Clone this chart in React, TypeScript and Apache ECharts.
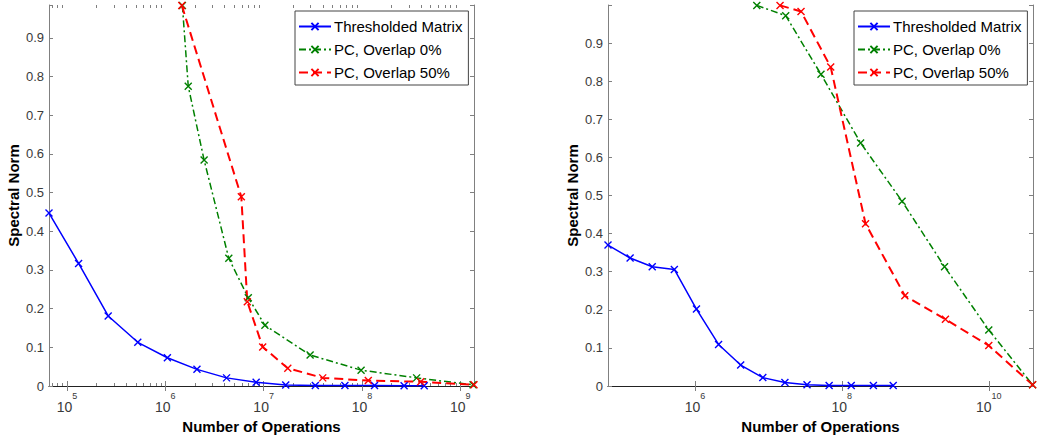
import React, { useEffect, useRef } from "react";
import * as echarts from "echarts";

// ---- Left panel data ----
const leftThreshX = [65536, 131072, 262144, 524288, 1048576, 2097152, 4194304, 8388608, 16777216, 33554432, 67108864, 134217728, 268435456, 430000000];
const leftThreshY = [0.447, 0.317, 0.181, 0.113, 0.073, 0.043, 0.021, 0.0095, 0.0026, 0.0015, 0.001, 0.001, 0.0008, 0.0005];
const leftPc0X = [1.49e6, 1.71e6, 2.48e6, 4.42e6, 6.98e6, 1.03e7, 2.97e7, 9.8e7, 3.6e8, 1.35e9];
const leftPc0Y = [0.984, 0.775, 0.584, 0.33, 0.228, 0.157, 0.08, 0.041, 0.021, 0.003];
const leftPc50X = [1.47e6, 5.93e6, 6.82e6, 9.78e6, 1.76e7, 3.99e7, 1.16e8, 3.96e8, 1.38e9];
const leftPc50Y = [0.984, 0.489, 0.218, 0.101, 0.046, 0.021, 0.014, 0.011, 0.003];

// ---- Right panel data ----
const rightThreshX = [65536, 131072, 262144, 524288, 1048576, 2097152, 4194304, 8388608, 16777216, 33554432, 67108864, 134217728, 268435456, 500000000];
const rightThreshY = [0.37, 0.336, 0.313, 0.306, 0.202, 0.109, 0.055, 0.022, 0.009, 0.003, 0.001, 0.001, 0.001, 0.001];
const rightPc0X = [6.95e6, 1.72e7, 5.2e7, 1.8e8, 6.6e8, 2.5e9, 1.0e10, 3.95e10];
const rightPc0Y = [0.999, 0.972, 0.818, 0.638, 0.485, 0.313, 0.147, 0.003];
const rightPc50X = [1.44e7, 2.78e7, 7.05e7, 2.1e8, 7.2e8, 2.57e9, 1.0e10, 3.95e10];
const rightPc50Y = [0.999, 0.983, 0.837, 0.426, 0.237, 0.175, 0.106, 0.003];

// ---- Axis ticks ----
const leftMajorTicks = [1e5, 1e6, 1e7, 1e8, 1e9];
const leftMinorTicks = [7e4, 8e4, 9e4, 2e5, 3e5, 4e5, 5e5, 6e5, 7e5, 8e5, 9e5, 2e6, 3e6, 4e6, 5e6, 6e6, 7e6, 8e6, 9e6, 2e7, 3e7, 4e7, 5e7, 6e7, 7e7, 8e7, 9e7, 2e8, 3e8, 4e8, 5e8, 6e8, 7e8, 8e8, 9e8];
const rightMajorTicks = [1e6, 1e8, 1e10];
const yTickLabels = ["0", "0.1", "0.2", "0.3", "0.4", "0.5", "0.6", "0.7", "0.8", "0.9"];

const seriesNames = ["Thresholded Matrix", "PC, Overlap 0%", "PC, Overlap 50%"];

const FONT = "Liberation Sans, Arial, sans-serif";
const AXIS_GRAY = "#808080";
const LABEL_COLOR = "#3a3a3a";
const CROSS = "path://M0,0L10,10M10,0L0,10";

function xAxes(gridIndex: number, min: number, max: number, majors: number[], minors: number[] | null) {
  const axes: any[] = [];
  axes.push({
    type: "log",
    logBase: 10,
    gridIndex,
    min,
    max,
    position: "bottom",
    name: "Number of Operations",
    nameLocation: "middle",
    nameGap: 31,
    nameTextStyle: { fontFamily: FONT, fontWeight: "bold", fontSize: 15, color: "#000" },
    axisLine: { show: true, lineStyle: { color: AXIS_GRAY, width: 1 } },
    axisTick: { show: true, inside: true, length: 5, customValues: majors, lineStyle: { color: AXIS_GRAY } },
    axisLabel: {
      show: true,
      margin: 5,
      customValues: majors,
      formatter: (v: number) => "{b|10}{s|" + Math.round(Math.log10(v)) + "}",
      rich: {
        b: { fontFamily: FONT, fontSize: 14, color: LABEL_COLOR, lineHeight: 23, verticalAlign: "bottom" },
        s: { fontFamily: FONT, fontSize: 9, color: LABEL_COLOR, lineHeight: 23, verticalAlign: "top" },
      },
    },
    splitLine: { show: false },
  });
  axes.push({
    type: "log",
    logBase: 10,
    gridIndex,
    min,
    max,
    position: "top",
    axisLine: { show: true, lineStyle: { color: "#222", width: 1 } },
    axisTick: { show: true, inside: true, length: 5, customValues: majors, lineStyle: { color: AXIS_GRAY } },
    axisLabel: { show: false },
    splitLine: { show: false },
  });
  if (minors) {
    for (const pos of ["bottom", "top"]) {
      axes.push({
        type: "log",
        logBase: 10,
        gridIndex,
        min,
        max,
        position: pos,
        axisLine: { show: false },
        axisTick: { show: true, inside: true, length: 3, customValues: minors, lineStyle: { color: AXIS_GRAY } },
        axisLabel: { show: false },
        splitLine: { show: false },
      });
    }
  }
  return axes;
}

function yAxes(gridIndex: number, max: number) {
  return [
    {
      type: "value",
      gridIndex,
      min: 0,
      max,
      interval: 0.1,
      position: "left",
      name: "Spectral Norm",
      nameLocation: "middle",
      nameGap: 28,
      nameTextStyle: { fontFamily: FONT, fontWeight: "bold", fontSize: 15, color: "#000" },
      axisLine: { show: true, lineStyle: { color: AXIS_GRAY, width: 1 } },
      axisTick: { show: true, inside: true, length: 4, lineStyle: { color: AXIS_GRAY } },
      axisLabel: {
        show: true,
        margin: 5,
        fontFamily: FONT,
        fontSize: 13,
        color: LABEL_COLOR,
        formatter: (v: number) => {
          const i = Math.round(v * 10);
          return Math.abs(v * 10 - i) < 1e-6 && i < yTickLabels.length ? yTickLabels[i] : "";
        },
      },
      splitLine: { show: false },
    },
    {
      type: "value",
      gridIndex,
      min: 0,
      max,
      interval: 0.1,
      position: "right",
      axisLine: { show: true, lineStyle: { color: AXIS_GRAY, width: 1 } },
      axisTick: { show: true, inside: true, length: 4, lineStyle: { color: AXIS_GRAY } },
      axisLabel: { show: false },
      splitLine: { show: false },
    },
  ];
}

function makeSeries(name: string, xs: number[], ys: number[], xAxisIndex: number, yAxisIndex: number, color: string, type: any, width: number) {
  return {
    type: "line",
    name,
    xAxisIndex,
    yAxisIndex,
    data: xs.map((x, i) => [x, ys[i]]),
    symbol: CROSS,
    symbolSize: 7,
    showSymbol: true,
    clip: true,
    itemStyle: { color: "none", borderColor: color, borderWidth: 1.4 },
    lineStyle: { color, width, type },
    emphasis: { disabled: true },
  };
}

function legend(left: number) {
  return {
    data: seriesNames,
    orient: "vertical",
    left,
    top: 11,
    itemWidth: 32,
    itemHeight: 9,
    itemGap: 8,
    padding: [8, 6, 5, 3],
    backgroundColor: "#fff",
    borderColor: "#444",
    borderWidth: 1,
    borderRadius: 0,
    selectedMode: false,
    textStyle: { fontFamily: FONT, fontSize: 15, color: "#000", padding: [0, 0, 0, -2] },
  };
}

export default function App() {
  const ref = useRef<HTMLDivElement>(null);
  useEffect(() => {
    document.body.style.margin = "0";
    const chart = echarts.init(ref.current!, null, { renderer: "svg" });
    const leftX = xAxes(0, 65536, 1.38e9, leftMajorTicks, leftMinorTicks);
    const rightX = xAxes(1, 65536, 4.0e10, rightMajorTicks, null);
    const rightXStart = leftX.length;
    const option: any = {
      animation: false,
      backgroundColor: "#fff",
      grid: [
        { left: 49, top: 5, width: 425, height: 381, containLabel: false },
        { left: 608, top: 5, width: 425, height: 381, containLabel: false },
      ],
      xAxis: [...leftX, ...rightX],
      yAxis: [...yAxes(0, 0.985), ...yAxes(1, 1.0)],
      legend: [legend(295), legend(854)],
      series: [
        makeSeries(seriesNames[0], leftThreshX, leftThreshY, 0, 0, "#0000ff", "solid", 1.5),
        makeSeries(seriesNames[1], leftPc0X, leftPc0Y, 0, 0, "#008000", [7, 3, 2, 3], 1.5),
        makeSeries(seriesNames[2], leftPc50X, leftPc50Y, 0, 0, "#ff0000", [9, 5], 2),
        makeSeries(seriesNames[0], rightThreshX, rightThreshY, rightXStart, 2, "#0000ff", "solid", 1.5),
        makeSeries(seriesNames[1], rightPc0X, rightPc0Y, rightXStart, 2, "#008000", [7, 3, 2, 3], 1.5),
        makeSeries(seriesNames[2], rightPc50X, rightPc50Y, rightXStart, 2, "#ff0000", [9, 5], 2),
      ],
    };
    chart.setOption(option);
    return () => chart.dispose();
  }, []);
  return <div ref={ref} style={{ width: 1037, height: 441 }} />;
}
